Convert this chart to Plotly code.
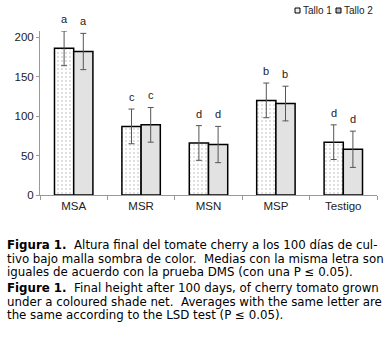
import plotly.graph_objects as go

# Final plant height (cm) per shade-net treatment, two stems per plant
treatments = ["MSA", "MSR", "MSN", "MSP", "Testigo"]
tallo1 = [186, 87, 66, 120, 67]
tallo2 = [182, 89, 64, 116, 58]
err1 = [22, 22, 22, 22, 22]
err2 = [23, 22, 23, 22, 23]
letters1 = ["a", "c", "d", "b", "d"]
letters2 = ["a", "c", "d", "b", "d"]
y_ticks = [0, 50, 100, 150, 200]
series_names = ["Tallo 1", "Tallo 2"]

caption_es = [
    "<b>Figura 1.</b>  Altura final del tomate cherry a los 100 días de cul-",
    "tivo bajo malla sombra de color.  Medias con la misma letra son",
    "iguales de acuerdo con la prueba DMS (con una P ≤ 0.05).",
]
caption_en = [
    "<b>Figure 1.</b>  Final height after 100 days, of cherry tomato grown",
    "under a coloured shade net.  Averages with the same letter are",
    "the same according to the LSD test (P ≤ 0.05).",
]

axis_font = dict(family="Liberation Sans, Arial, sans-serif", size=11.5, color="#222")

fig = go.Figure()
fig.add_trace(go.Bar(
    name=series_names[0], x=treatments, y=tallo1,
    error_y=dict(type="data", array=err1, color="#555", thickness=1, width=3),
    marker=dict(color="white", line=dict(color="black", width=1.5),
                pattern=dict(shape=".", size=4, solidity=0.12, fgcolor="#666", bgcolor="white")),
))
fig.add_trace(go.Bar(
    name=series_names[1], x=treatments, y=tallo2,
    error_y=dict(type="data", array=err2, color="#555", thickness=1, width=3),
    marker=dict(color="white", line=dict(color="black", width=1.5),
                pattern=dict(shape=".", size=2, solidity=0.5, fgcolor="#7a7a7a", bgcolor="white")),
))

# Significance letters above each error bar
bar_offset = 9.5
for i, t in enumerate(treatments):
    for val, e, lab, sh in ((tallo1[i], err1[i], letters1[i], -bar_offset),
                             (tallo2[i], err2[i], letters2[i], bar_offset)):
        fig.add_annotation(x=t, y=val + e, text=lab, showarrow=False,
                           xshift=sh, yanchor="bottom", yshift=4,
                           font=dict(family="Liberation Sans, Arial, sans-serif", size=11, color="#222"))

# Compact legend in the upper right corner
W, H = 337, 164
def px(x):
    return (x - 40) / W
def py(y):
    return (195 - y) / H
legend_fill = ["#eeeeee", "#b8b8b8"]
for name, fill, x0 in zip(series_names, legend_fill, (295, 336)):
    fig.add_shape(type="rect", xref="paper", yref="paper",
                  x0=px(x0), x1=px(x0 + 5), y0=py(13), y1=py(8),
                  fillcolor=fill, line=dict(color="black", width=1))
    fig.add_annotation(xref="paper", yref="paper", x=px(x0 + 6), xanchor="left",
                       y=py(10.5), yanchor="middle", text=name, showarrow=False,
                       font=dict(family="Liberation Sans, Arial, sans-serif", size=10, color="#222"))

# Figure caption lines below the plot
cap_font = dict(family="DejaVu Sans, sans-serif", size=11.8, color="black")
line_y = [245, 258.5, 272, 288, 301.5, 315]
for txt, yy in zip(caption_es + caption_en, line_y):
    fig.add_annotation(xref="paper", yref="paper", x=px(5), xanchor="left",
                       y=py(yy), yanchor="middle", text=txt, showarrow=False,
                       font=cap_font, align="left")

fig.update_layout(
    width=392, height=339,
    margin=dict(l=40, r=15, t=31, b=144),
    paper_bgcolor="white", plot_bgcolor="white",
    barmode="group", bargap=0.43, bargroupgap=0,
    showlegend=False,
    xaxis=dict(showline=True, linecolor="#999", linewidth=1, ticks="outside", tickson="boundaries",
               ticklen=4, tickcolor="#999", tickfont=axis_font, showgrid=False),
    yaxis=dict(range=[0, 208], tickvals=y_ticks, showline=True, linecolor="#999", linewidth=1,
               ticks="outside", ticklen=3, tickcolor="#999", tickfont=axis_font, showgrid=False,
               zeroline=False),
)

fig.write_html("out.html")
